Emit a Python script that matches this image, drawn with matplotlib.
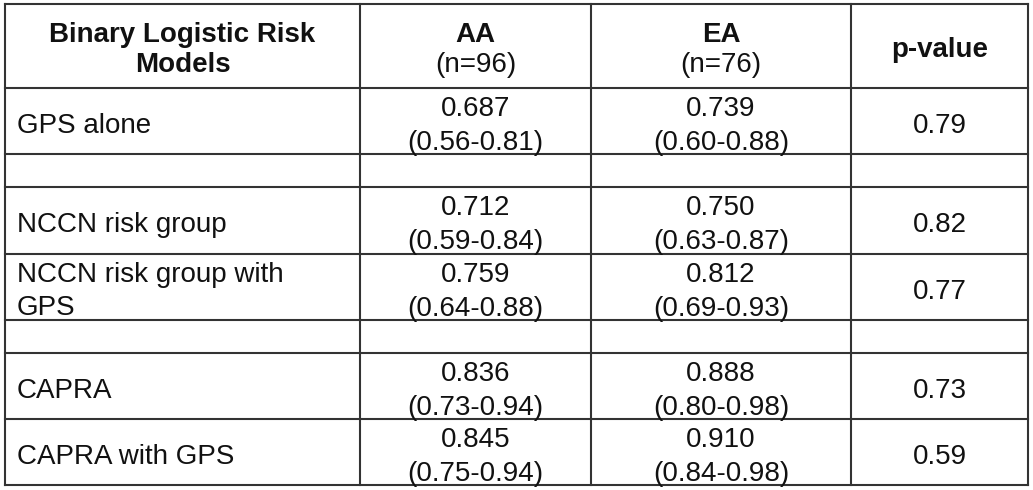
import matplotlib.pyplot as plt

# table contents
models = ["GPS alone", "", "NCCN risk group", "NCCN risk group with\nGPS", "",
          "CAPRA", "CAPRA with GPS"]
aa_auc = [0.687, None, 0.712, 0.759, None, 0.836, 0.845]
aa_lo = [0.56, None, 0.59, 0.64, None, 0.73, 0.75]
aa_hi = [0.81, None, 0.84, 0.88, None, 0.94, 0.94]
ea_auc = [0.739, None, 0.750, 0.812, None, 0.888, 0.910]
ea_lo = [0.60, None, 0.63, 0.69, None, 0.80, 0.84]
ea_hi = [0.88, None, 0.87, 0.93, None, 0.98, 0.98]
p_values = [0.79, None, 0.82, 0.77, None, 0.73, 0.59]
n_aa = 96
n_ea = 76

# layout in pixels
W, H = 1033, 490
col_edges = [5, 360, 591, 851, 1028]
row_edges = [4, 88, 154, 187, 254, 320, 353, 419, 485]
FS = 20
CAP = 10.0   # half cap height in px

plt.rcParams['font.family'] = ['Liberation Sans', 'DejaVu Sans']

fig = plt.figure(figsize=(W / 100, H / 100), dpi=100)
ax = fig.add_axes([0, 0, 1, 1])
ax.set_xlim(0, W)
ax.set_ylim(H, 0)
ax.axis('off')

lc = '#333333'
for x in col_edges:
    ax.plot([x, x], [row_edges[0], row_edges[-1]], color=lc, lw=1.5,
            solid_capstyle='projecting')
for y in row_edges:
    ax.plot([col_edges[0], col_edges[-1]], [y, y], color=lc, lw=1.5,
            solid_capstyle='projecting')


def put(x, yc, lines, ha='center', weights=None, gap=34):
    # place lines of text around a visual centre yc
    n = len(lines)
    for i, s in enumerate(lines):
        w = weights[i] if weights else 'normal'
        y = yc + (i - (n - 1) / 2) * gap + CAP
        ax.text(x, y, s, ha=ha, va='baseline', fontsize=FS, fontweight=w,
                color='#111111')


def ccen(i):
    return (col_edges[i] + col_edges[i + 1]) / 2


# header
hy = (row_edges[0] + row_edges[1]) / 2 + 1
put(ccen(0), hy, ["Binary Logistic Risk", "Models"], weights=['bold', 'bold'], gap=30)
put(ccen(1), hy, ["AA", "(n=%d)" % n_aa], weights=['bold', 'normal'], gap=30)
put(ccen(2), hy, ["EA", "(n=%d)" % n_ea], weights=['bold', 'normal'], gap=30)
put(ccen(3), hy, ["p-value"], weights=['bold'])

# body
for r in range(len(models)):
    yc = (row_edges[r + 1] + row_edges[r + 2]) / 2 + 1.5
    if models[r]:
        put(17, yc, models[r].split("\n"), ha='left', gap=33)
    if aa_auc[r] is not None:
        put(ccen(1), yc, ["%.3f" % aa_auc[r], "(%.2f-%.2f)" % (aa_lo[r], aa_hi[r])])
        put(ccen(2), yc, ["%.3f" % ea_auc[r], "(%.2f-%.2f)" % (ea_lo[r], ea_hi[r])])
        put(ccen(3), yc, ["%.2f" % p_values[r]])

fig.savefig('out.png', dpi=100)
